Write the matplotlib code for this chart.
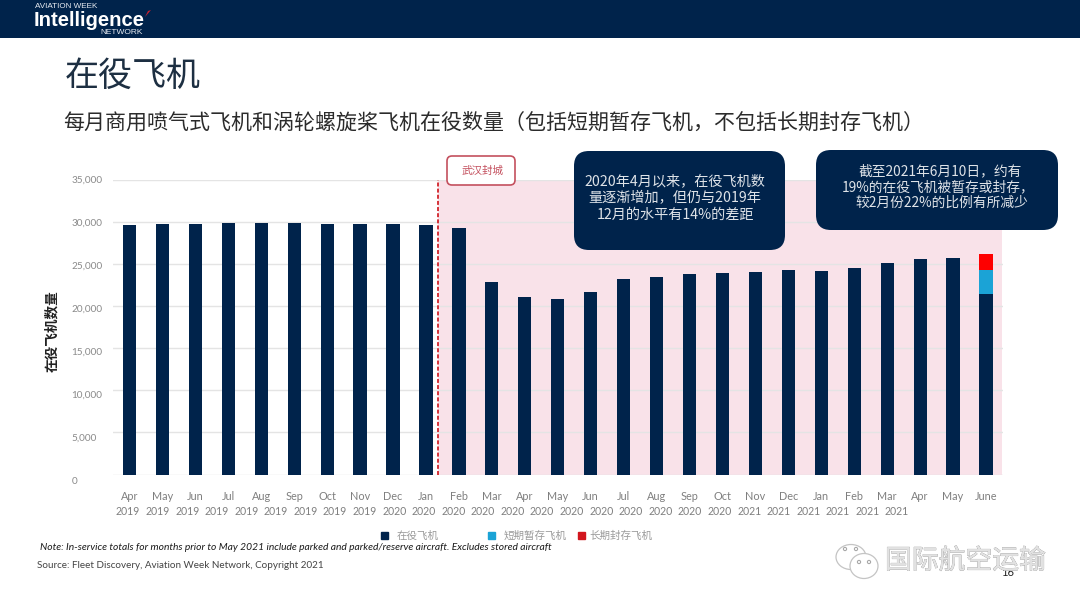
import matplotlib
matplotlib.use("Agg")
import matplotlib.pyplot as plt
import matplotlib.patheffects as pe
from matplotlib.patches import FancyBboxPatch, Rectangle, Ellipse, Polygon
from matplotlib.transforms import Affine2D

CJK = ['Noto Sans CJK SC', 'DejaVu Sans']
LAT = 'Lato'

months = ['Apr','May','Jun','Jul','Aug','Sep','Oct','Nov','Dec','Jan','Feb','Mar','Apr','May','Jun','Jul','Aug','Sep',
          'Oct','Nov','Dec','Jan','Feb','Mar','Apr','May','June']
years = ['2019']*9 + ['2020']*12 + ['2021']*6
in_service = [29570,29700,29750,29800,29850,29800,29750,29750,29750,29650,29200,22800,21100,20800,21650,23150,
              23450,23750,23900,24000,24300,24200,24500,25050,25600,25700,21400]
parked = [0]*26 + [2900]
stored = [0]*26 + [1900]
y_ticks = [0,5000,10000,15000,20000,25000,30000,35000]

NAVY = '#00234B'
W, H = 1080, 608
fig = plt.figure(figsize=(W/100, H/100), dpi=100, facecolor='white')
# pixel coordinates, origin top-left
PX = Affine2D().scale(1, -1).translate(0, H)

def ptext(x, y, s, **kw):
    kw.setdefault('va', 'center')
    kw.setdefault('family', CJK)
    return fig.text(x, y, s, transform=PX, **kw)

# Plot area
L, R, T, B = 113, 1002.5, 179.5, 474.5
ax = fig.add_axes([L/W, 1-B/H, (R-L)/W, (B-T)/H])
ax.set_xlim(-0.5, 26.5)
ax.set_ylim(0, 35000)
for s in ax.spines.values():
    s.set_visible(False)
ax.set_axisbelow(True)
ax.yaxis.grid(True, color='#e4e4e4', lw=1.0, zorder=1)
ax.xaxis.grid(False)
ax.tick_params(length=0)

x = list(range(len(months)))
lock_x = 9.35
ax.axvspan(lock_x, 26.5, color='#F8DDE6', lw=0, zorder=0.5, alpha=0.85)
ax.axvline(lock_x, color='#D2232A', lw=1.3, ls=(0, (2.2, 1.2)), zorder=4)

b1 = ax.bar(x, in_service, width=0.40, color=NAVY, zorder=3)
b2 = ax.bar(x, parked, width=0.40, bottom=in_service, color='#1BA3D6', zorder=3)
bott = [a+b for a, b in zip(in_service, parked)]
b3 = ax.bar(x, stored, width=0.40, bottom=bott, color='#FE0000', zorder=3)

ax.set_xticks(x)
ax.set_xticklabels(months, family=LAT, fontsize=7.8, color='#7f7f7f')
ax.tick_params(axis='x', pad=12)
ax.set_yticks(y_ticks)
ax.set_yticklabels([f'{v:,}' for v in y_ticks], family=LAT, fontsize=7.2, color='#8a8a8a', ha='left')
ax.tick_params(axis='y', pad=30)
for v, lab in zip(y_ticks, ax.get_yticklabels()):
    lab.set_transform(lab.get_transform() + Affine2D().translate(0, -(5.5 - 6*v/35000)))

# Year row has its own pitch in the reference
for i, yr in enumerate(years):
    ptext(128 + i*29.58, 511.5, yr, family=LAT, fontsize=7.6, color='#7f7f7f', ha='center')

ax.set_ylabel('在役飞机数量', family=CJK, fontsize=9.8, fontweight='bold', color='#222222', labelpad=0)
ax.yaxis.set_label_coords((59-L)/(R-L), 1-(331-T)/(B-T))

# Header
fig.add_artist(Rectangle((0, 0), W, 38, transform=PX, color=NAVY, lw=0, zorder=-1))
ptext(35, 7, 'AVIATION WEEK', family='Liberation Sans', fontsize=5.9, color='#e8ecf2')
ptext(34, 20, 'Intelligence', family='Liberation Sans', fontsize=14.6, fontweight='bold', color='white')
ptext(100, 32.5, 'NETWORK', family='Liberation Sans', fontsize=6.0, color='#e8ecf2')
fig.add_artist(Polygon([(145, 17), (151, 10), (148, 11)], transform=PX, color='#C8202F', lw=0))

# Titles
ptext(65, 76, '在役飞机', fontsize=24.5, color='#1d2f42')
ptext(63, 122.5, '每月商用喷气式飞机和涡轮螺旋桨飞机在役数量（包括短期暂存飞机，不包括长期封存飞机）',
      fontsize=15.1, color='#2b2b2b')

# Callouts
def box(x0, y0, x1, y1, fc, ec, r, lw=0):
    fig.add_artist(FancyBboxPatch((x0+r, y0+r), x1-x0-2*r, y1-y0-2*r, boxstyle=f'round,pad={r},rounding_size={r}',
                                  transform=PX, fc=fc, ec=ec, lw=lw, zorder=6))

box(447, 156, 515, 185, 'white', '#C4505E', 5, 1.2)
ptext(483, 171, '武汉封城', fontsize=7.6, color='#C4505E', ha='center', zorder=7)

box(574, 151, 785, 250, NAVY, NAVY, 15)
for yy, s in zip([182, 198, 215], ['2020年4月以来，在役飞机数', '量逐渐增加，但仍与2019年', '12月的水平有14%的差距']):
    ptext(675, yy, s, fontsize=10.2, color='#dfe3e8', ha='center', zorder=7)

box(816, 150, 1058, 230, NAVY, NAVY, 15)
for cx, yy, s in zip([940, 938, 942], [171, 187, 203],
                     ['截至2021年6月10日，约有', '19%的在役飞机被暂存或封存，', '较2月份22%的比例有所减少']):
    ptext(cx, yy, s, fontsize=9.9, color='#dfe3e8', ha='center', zorder=7)

# Legend entries (irregular spacing in the reference)
for handle, label, px, col, pad in zip([b1, b2, b3], ['在役飞机', '短期暂存飞机', '长期封存飞机'], [381, 488, 578],
                                       ['#00234B', '#1BA3D6', '#D2161E'], [0.85, 0.85, 0.45]):
    leg = fig.legend([handle], [label], loc='center left', bbox_to_anchor=(px/W, 1-536/H), frameon=False,
                     prop={'family': CJK, 'size': 7.6}, labelcolor='#9a9a9a', handlelength=0.65, handleheight=0.65,
                     handletextpad=pad, borderpad=0, borderaxespad=0)
    for h in leg.legend_handles:
        h.set_color(col)

# Notes
ptext(40, 548, 'Note: In-service totals for months prior to May 2021 include parked and parked/reserve aircraft. Excludes stored aircraft',
      family=LAT, style='italic', fontsize=7.35, color='#1a1a1a')
ptext(37, 565, 'Source: Fleet Discovery, Aviation Week Network, Copyright 2021', family=LAT, fontsize=7.1, color='#444444')

# Page number and watermark
ptext(1008, 573, '16', family=LAT, fontsize=8, color='#222222', ha='center')
ptext(885, 561, '国际航空运输', fontsize=19.3, color='#e2e2e2', zorder=8,
      path_effects=[pe.withStroke(linewidth=0.5, foreground='#8c8c8c'), pe.Normal()])
for cx, cy, w, h in [(851, 557, 30, 25), (864, 566, 28, 25)]:
    fig.add_artist(Ellipse((cx, cy), w, h, transform=PX, fc='white', ec='#c4c4c4', lw=0.9, zorder=8))
for ex, ey in [(845, 549), (856, 549), (859, 562), (869, 562)]:
    fig.add_artist(Ellipse((ex, ey), 3.2, 3.2, transform=PX, fc='white', ec='#a8a8a8', lw=0.8, zorder=9))

fig.savefig('out.png', dpi=100)
